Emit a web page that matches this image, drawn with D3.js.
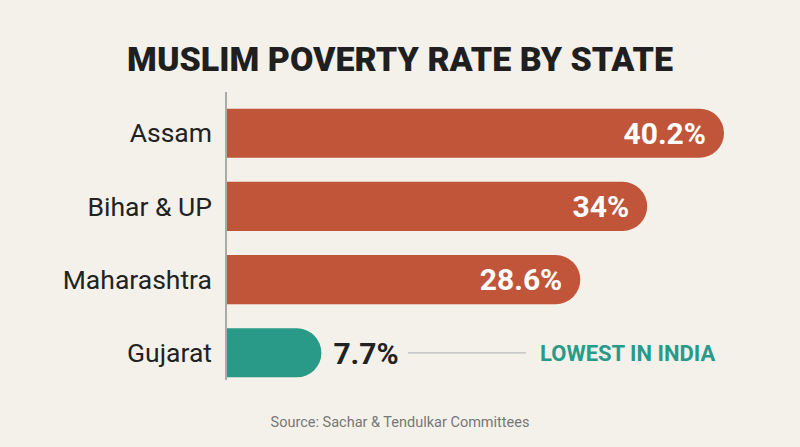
<!DOCTYPE html>
<html><head><meta charset="utf-8">
<script src="https://cdn.jsdelivr.net/npm/d3@7"></script>
<style>body{margin:0;background:#F3F1EA;}svg{display:block}</style>
</head><body>
<svg id="c" width="800" height="447"></svg>
<script>
const categories = ["Assam", "Bihar & UP", "Maharashtra", "Gujarat"];
const values = [40.2, 34, 28.6, 7.7];
const labels = ["40.2%", "34%", "28.6%", "7.7%"];
const highlight = [false, false, false, true];

const svg = d3.select("#c");
svg.append("rect").attr("width",800).attr("height",447).attr("fill","#F3F1EA");
svg.append("text").attr("x",400).attr("y",71).attr("text-anchor","middle")
  .attr("font-family","Roboto, 'Open Sans', sans-serif").attr("font-weight",900)
  .attr("font-size",34).attr("fill","#1f1f1f").text("MUSLIM POVERTY RATE BY STATE");

const x = d3.scaleLinear().domain([0, 40.2]).range([226, 724]);
const y = d3.scaleBand().domain(categories).range([94, 392]).paddingInner(0.33).paddingOuter(0.2);
const h = y.bandwidth(), r = h/2;

categories.forEach((c,i)=>{
  const x0 = x(0), x1 = x(values[i]), y0 = y(c);
  const p = `M${x0},${y0}H${x1-r}A${r},${r} 0 0 1 ${x1-r},${y0+h}H${x0}Z`;
  svg.append("path").attr("d",p).attr("fill", highlight[i] ? "#2A9A88" : "#C0553A");
  svg.append("text").attr("x",212).attr("y",y0+h/2).attr("dy","0.35em").attr("text-anchor","end")
    .attr("font-family","Roboto, sans-serif").attr("font-size",26.5).attr("fill","#222").text(c);
  if (!highlight[i]) {
    svg.append("text").attr("x",x1-18).attr("y",y0+h/2).attr("dy","0.36em").attr("text-anchor","end")
      .attr("font-family","Roboto, sans-serif").attr("font-weight",700).attr("font-size",30)
      .attr("fill","#fff").text(labels[i]);
  } else {
    svg.append("text").attr("x",x1+12).attr("y",y0+h/2).attr("dy","0.36em")
      .attr("font-family","Roboto, sans-serif").attr("font-weight",700).attr("font-size",30)
      .attr("fill","#222").text(labels[i]);
    svg.append("line").attr("x1",408).attr("x2",526).attr("y1",y0+h/2).attr("y2",y0+h/2)
      .attr("stroke","#bbb").attr("stroke-width",1.2);
    svg.append("text").attr("x",540).attr("y",y0+h/2).attr("dy","0.36em")
      .attr("font-family","Roboto, sans-serif").attr("font-weight",700).attr("font-size",22)
      .attr("fill","#2A9A88").text("LOWEST IN INDIA");
  }
});
svg.append("line").attr("x1",x(0)).attr("x2",x(0)).attr("y1",92).attr("y2",380)
  .attr("stroke","#aaa").attr("stroke-width",2);
svg.append("text").attr("x",400).attr("y",427).attr("text-anchor","middle")
  .attr("font-family","Roboto, sans-serif").attr("font-size",14.5).attr("fill","#777")
  .text("Source: Sachar & Tendulkar Committees");
</script>
</body></html>
